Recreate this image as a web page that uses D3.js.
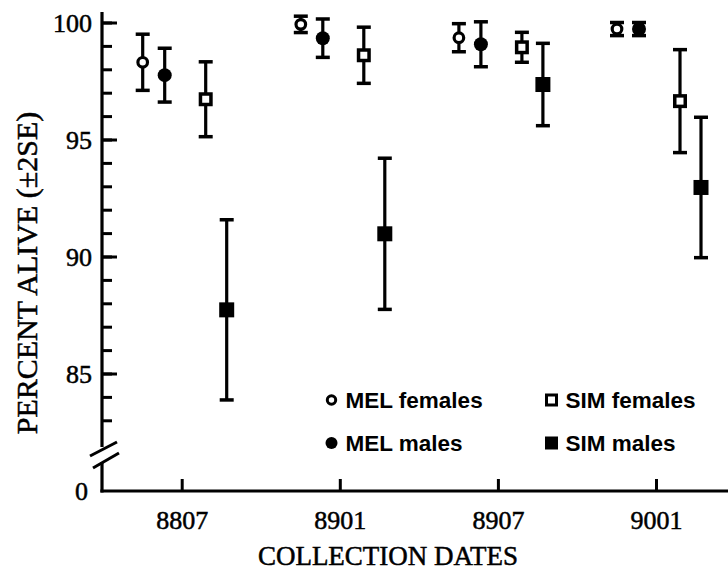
<!DOCTYPE html>
<html>
<head>
<meta charset="utf-8">
<script src="https://cdn.jsdelivr.net/npm/d3@7"></script>
<style>
  html, body { margin: 0; padding: 0; background: #fff; }
  svg { display: block; }
  .serif { font-family: "Liberation Serif", "Times New Roman", serif; fill: #000; stroke: #000; stroke-width: 0.5px; }
  .sans { font-family: "Liberation Sans", Arial, sans-serif; fill: #000; }
</style>
</head>
<body>
<svg id="chart" width="728" height="585"></svg>
<script>
// Survival (percent alive, mean ± 2SE) per collection date
const dates = ["8807", "8901", "8907", "9001"];
const seriesNames = ["MEL females", "MEL males", "SIM females", "SIM males"];

const melFemales    = [98.3, 99.92, 99.35, 99.72];
const melFemalesErr = [1.2, 0.35, 0.6, 0.28];
const melMales      = [97.75, 99.33, 99.07, 99.72];
const melMalesErr   = [1.15, 0.82, 0.96, 0.28];
const simFemales    = [96.72, 98.6, 98.94, 96.64];
const simFemalesErr = [1.6, 1.2, 0.64, 2.2];
const simMales      = [87.72, 90.97, 97.35, 92.95];
const simMalesErr   = [3.85, 3.23, 1.76, 3.0];

const yMajorTicks = [85, 90, 95, 100];
const yMinorTicks = d3.range(83, 101);
const yZeroLabel = "0";

const seriesValues = [melFemales, melMales, simFemales, simMales];
const seriesErrs = [melFemalesErr, melMalesErr, simFemalesErr, simMalesErr];

const svg = d3.select("#chart");

// scales
const x = d3.scalePoint().domain(dates).range([181.7, 656]);
const offset = d3.scaleOrdinal().domain(seriesNames).range([-39, -17, 24, 45]);
const y = d3.scaleLinear().domain([85, 100]).range([373.5, 22.5]);

const axisX = 102;      // y-axis line position
const baseY = 491;      // x-axis line position (value 0)

// marker shapes
const markerStyle = {
  "MEL females": { shape: "circle", fill: "#fff", r: 4.8 },
  "MEL males":   { shape: "circle", fill: "#000", r: 7 },
  "SIM females": { shape: "square", fill: "#fff", s: 10.5 },
  "SIM males":   { shape: "square", fill: "#000", s: 15 }
};

function drawMarker(g, name, cx, cy) {
  const st = markerStyle[name];
  if (st.shape === "circle") {
    g.append("circle").attr("cx", cx).attr("cy", cy)
      .attr("r", st.r).attr("fill", st.fill)
      .attr("stroke", "#000").attr("stroke-width", st.fill === "#fff" ? 3.2 : 0);
  } else {
    const s = st.s;
    g.append("rect").attr("x", cx - s / 2).attr("y", cy - s / 2)
      .attr("width", s).attr("height", s).attr("fill", st.fill)
      .attr("stroke", "#000").attr("stroke-width", st.fill === "#fff" ? 3.5 : 0);
  }
}

// y axis: major and minor ticks pointing into the plot
const yMajor = d3.axisLeft(y).tickValues(yMajorTicks)
  .tickSizeInner(-15).tickSizeOuter(0).tickPadding(10).tickFormat(d3.format("d"));
const yMinor = d3.axisLeft(y).tickValues(yMinorTicks)
  .tickSizeInner(-10).tickSizeOuter(0).tickFormat("");

const gyMinor = svg.append("g").attr("transform", `translate(${axisX},0)`).call(yMinor);
const gyMajor = svg.append("g").attr("transform", `translate(${axisX},0)`).call(yMajor);
[gyMinor, gyMajor].forEach(g => {
  g.select(".domain").remove();
  g.selectAll(".tick line").attr("stroke", "#000").attr("stroke-width", 3);
});
gyMajor.selectAll(".tick text")
  .attr("class", "serif").attr("font-size", 26).attr("dy", "0.34em")
  .attr("fill", "#000").attr("font-family", null);

// broken y-axis line
svg.append("line").attr("x1", axisX).attr("x2", axisX)
  .attr("y1", 12).attr("y2", 447).attr("stroke", "#000").attr("stroke-width", 3.2);
svg.append("line").attr("x1", axisX).attr("x2", axisX)
  .attr("y1", 462).attr("y2", baseY + 1.5).attr("stroke", "#000").attr("stroke-width", 3.2);
// break marks
[[90, 456, 117, 442], [93, 468, 119, 453]].forEach(([x1, y1, x2, y2]) => {
  svg.append("line").attr("x1", x1).attr("y1", y1).attr("x2", x2).attr("y2", y2)
    .attr("stroke", "#000").attr("stroke-width", 3);
});
svg.append("text").attr("class", "serif").attr("x", 88).attr("y", baseY)
  .attr("dy", "0.34em").attr("text-anchor", "end").attr("font-size", 26).text(yZeroLabel);

// x axis
const xAxis = d3.axisBottom(x).tickSizeInner(-12).tickSizeOuter(0).tickPadding(20);
const gx = svg.append("g").attr("transform", `translate(0,${baseY})`).call(xAxis);
gx.select(".domain").remove();
gx.selectAll(".tick line").attr("stroke", "#000").attr("stroke-width", 3);
gx.selectAll(".tick text").attr("class", "serif").attr("font-size", 26)
  .attr("fill", "#000").attr("font-family", null);
svg.append("line").attr("x1", axisX - 1.6).attr("x2", 728)
  .attr("y1", baseY).attr("y2", baseY).attr("stroke", "#000").attr("stroke-width", 3.2);

// axis titles
svg.append("text").attr("class", "serif").attr("x", 388).attr("y", 565)
  .attr("text-anchor", "middle").attr("font-size", 27).text("COLLECTION DATES");
svg.append("text").attr("class", "serif")
  .attr("transform", "translate(37,273) rotate(-90)")
  .attr("text-anchor", "middle").attr("font-size", 30).text("PERCENT ALIVE (±2SE)");

// error bars and markers
const capHalf = 7;
seriesNames.forEach((name, si) => {
  const g = svg.append("g").attr("class", "series");
  dates.forEach((d, i) => {
    const v = seriesValues[si][i];
    const e = seriesErrs[si][i];
    const cx = x(d) + offset(name);
    const yTop = y(v + e), yBot = y(v - e);
    g.append("line").attr("x1", cx).attr("x2", cx).attr("y1", yTop).attr("y2", yBot)
      .attr("stroke", "#000").attr("stroke-width", 3.2);
    [yTop, yBot].forEach(yy => {
      g.append("line").attr("x1", cx - capHalf).attr("x2", cx + capHalf)
        .attr("y1", yy).attr("y2", yy).attr("stroke", "#000").attr("stroke-width", 3.5);
    });
    drawMarker(g, name, cx, y(v));
  });
});

// legend
const legendCols = [331.5, 551.5];
const legendRows = [400, 443];
const legendOrder = [
  ["MEL females", 0, 0], ["SIM females", 1, 0],
  ["MEL males", 0, 1], ["SIM males", 1, 1]
];
const lg = svg.append("g").attr("class", "legend");
legendOrder.forEach(([name, c, r]) => {
  const lx = legendCols[c], ly = legendRows[r];
  const st = markerStyle[name];
  if (st.shape === "circle") {
    lg.append("circle").attr("cx", lx).attr("cy", ly)
      .attr("r", st.fill === "#fff" ? 4.2 : 6).attr("fill", st.fill)
      .attr("stroke", "#000").attr("stroke-width", st.fill === "#fff" ? 3 : 0);
  } else {
    const s = st.fill === "#fff" ? 10 : 13;
    lg.append("rect").attr("x", lx - s / 2).attr("y", ly - s / 2)
      .attr("width", s).attr("height", s).attr("fill", st.fill)
      .attr("stroke", "#000").attr("stroke-width", st.fill === "#fff" ? 3 : 0);
  }
  lg.append("text").attr("class", "sans").attr("x", lx + 14).attr("y", ly + 8)
    .attr("font-size", 22.5).attr("font-weight", "bold").text(name);
});
</script>
</body>
</html>
